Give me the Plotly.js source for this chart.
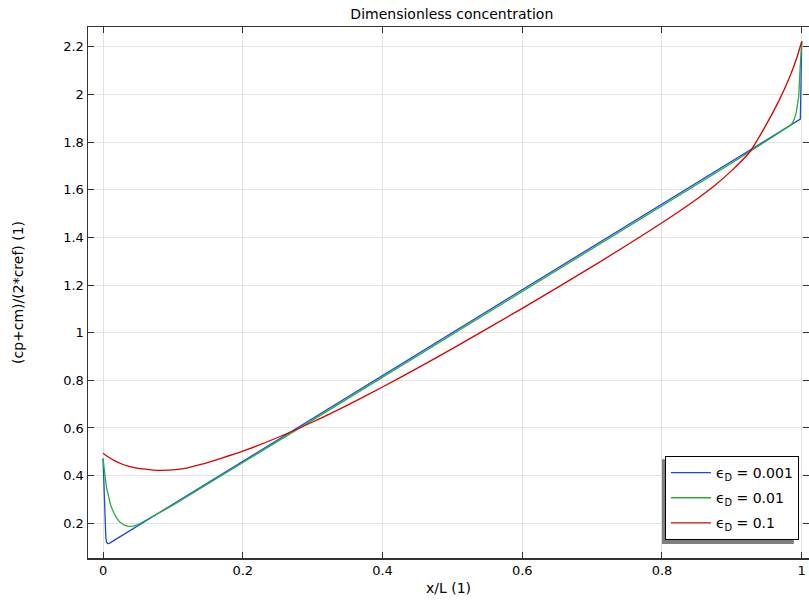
<!DOCTYPE html>
<html>
<head>
<meta charset="utf-8">
<script src="https://cdn.plot.ly/plotly-3.0.1.min.js"></script>
<style>html,body{margin:0;padding:0;background:#fff;}#chart{width:809px;height:600px;}</style>
</head>
<body>
<div id="chart"></div>
<script>
// Data
const seriesNames = ["ϵ<sub>D</sub> = 0.001", "ϵ<sub>D</sub> = 0.01", "ϵ<sub>D</sub> = 0.1"];

const xBlue = [0, 0.001, 0.002, 0.003, 0.004, 0.005, 0.0067, 0.009, 0.0124, 0.1, 0.3, 0.5, 0.7, 0.9, 0.998, 1];
const yBlue = [0.472, 0.38, 0.268, 0.19, 0.142, 0.122, 0.115, 0.116, 0.122, 0.28, 0.64, 1.0, 1.36, 1.72, 1.896, 2.222];

const xGreen = [0, 0.001, 0.003, 0.005, 0.0076, 0.011, 0.015, 0.019, 0.024, 0.03, 0.036, 0.043, 0.051, 0.058, 0.065, 0.072, 0.08, 0.1, 0.3, 0.5, 0.7, 0.9, 0.985, 0.989, 0.992, 0.994, 0.9957, 0.9976, 0.999, 1];
const yGreen = [0.472, 0.44, 0.395, 0.35, 0.311, 0.275, 0.247, 0.224, 0.205, 0.193, 0.187, 0.188, 0.196, 0.207, 0.220, 0.232, 0.244, 0.276, 0.633, 0.992, 1.352, 1.712, 1.872, 1.893, 1.921, 1.952, 1.991, 2.103, 2.17, 2.222];

const xRed = [0, 0.008, 0.017, 0.026, 0.036, 0.048, 0.06, 0.072, 0.085, 0.1, 0.12, 0.14, 0.17, 0.2, 0.25, 0.3, 0.35, 0.4, 0.45, 0.5, 0.6, 0.7, 0.8, 0.85, 0.875, 0.9, 0.925, 0.945, 0.968, 0.983, 0.992, 1];
const yRed = [0.494, 0.477, 0.462, 0.450, 0.440, 0.432, 0.427, 0.4235, 0.4225, 0.424, 0.432, 0.447, 0.474, 0.503, 0.560, 0.625, 0.696, 0.772, 0.851, 0.933, 1.102, 1.277, 1.461, 1.561, 1.616, 1.681, 1.756, 1.851, 1.977, 2.075, 2.145, 2.222];

const xTicks = [0, 0.2, 0.4, 0.6, 0.8, 1];
const yTicks = [0.2, 0.4, 0.6, 0.8, 1, 1.2, 1.4, 1.6, 1.8, 2, 2.2];

const traces = [
  {x: xBlue, y: yBlue, name: seriesNames[0], legendgroup: 'a', mode: 'lines', line: {color: '#1f45f0', width: 1.3}},
  {x: xGreen, y: yGreen, name: seriesNames[1], legendgroup: 'b', mode: 'lines', line: {color: '#22b033', width: 1.3}},
  {x: xRed, y: yRed, name: seriesNames[2], legendgroup: 'c', mode: 'lines', line: {color: '#dd0000', width: 1.3, shape: 'spline', smoothing: 0.6}}
];

const tickFont = {family: 'DejaVu Sans, sans-serif', size: 13, color: '#000'};
const titleFont = {family: 'DejaVu Sans, sans-serif', size: 14, color: '#000'};

const layout = {
  width: 809, height: 600,
  margin: {l: 88, r: 0, t: 27, b: 42},
  paper_bgcolor: '#fff', plot_bgcolor: '#fff',
  font: tickFont,
  showlegend: true,
  title: {text: 'Dimensionless concentration', font: titleFont, x: 0.5585, xanchor: 'center', y: 0.977, yanchor: 'middle'},
  xaxis: {
    range: [-0.0215, 1.0104], tickvals: xTicks, ticks: 'inside', ticklen: 6, tickcolor: '#333',
    showline: true, linecolor: '#333', linewidth: 1.5, mirror: 'ticks',
    showgrid: true, gridcolor: '#e3e3e3', gridwidth: 1, zeroline: false,
    tickfont: tickFont,
    title: {text: 'x/L (1)', font: titleFont, standoff: 6}
  },
  yaxis: {
    range: [0.0544, 2.2827], tickvals: yTicks, ticks: 'inside', ticklen: 6, tickcolor: '#333',
    showline: true, linecolor: '#333', linewidth: 1.5, mirror: 'ticks',
    showgrid: true, gridcolor: '#e3e3e3', gridwidth: 1, zeroline: false,
    tickfont: tickFont,
    title: {text: '(cp+cm)/(2*cref) (1)', font: titleFont, standoff: 36}
  },
  legend: {
    x: 0.986, xanchor: 'right', y: 0.034, yanchor: 'bottom',
    bgcolor: '#fff', bordercolor: '#000', borderwidth: 1,
    font: {family: 'DejaVu Sans, sans-serif', size: 14, color: '#000'},
    itemwidth: 40, tracegroupgap: 4
  },
  shapes: [
    {type: 'rect', xref: 'paper', yref: 'paper', x0: 0.796, x1: 0.979, y0: 0.0264, y1: 0.186,
     fillcolor: '#7f7f7f', line: {width: 0}, layer: 'above'}
  ]
};

Plotly.newPlot('chart', traces, layout, {displayModeBar: false, staticPlot: true});
</script>
</body>
</html>
